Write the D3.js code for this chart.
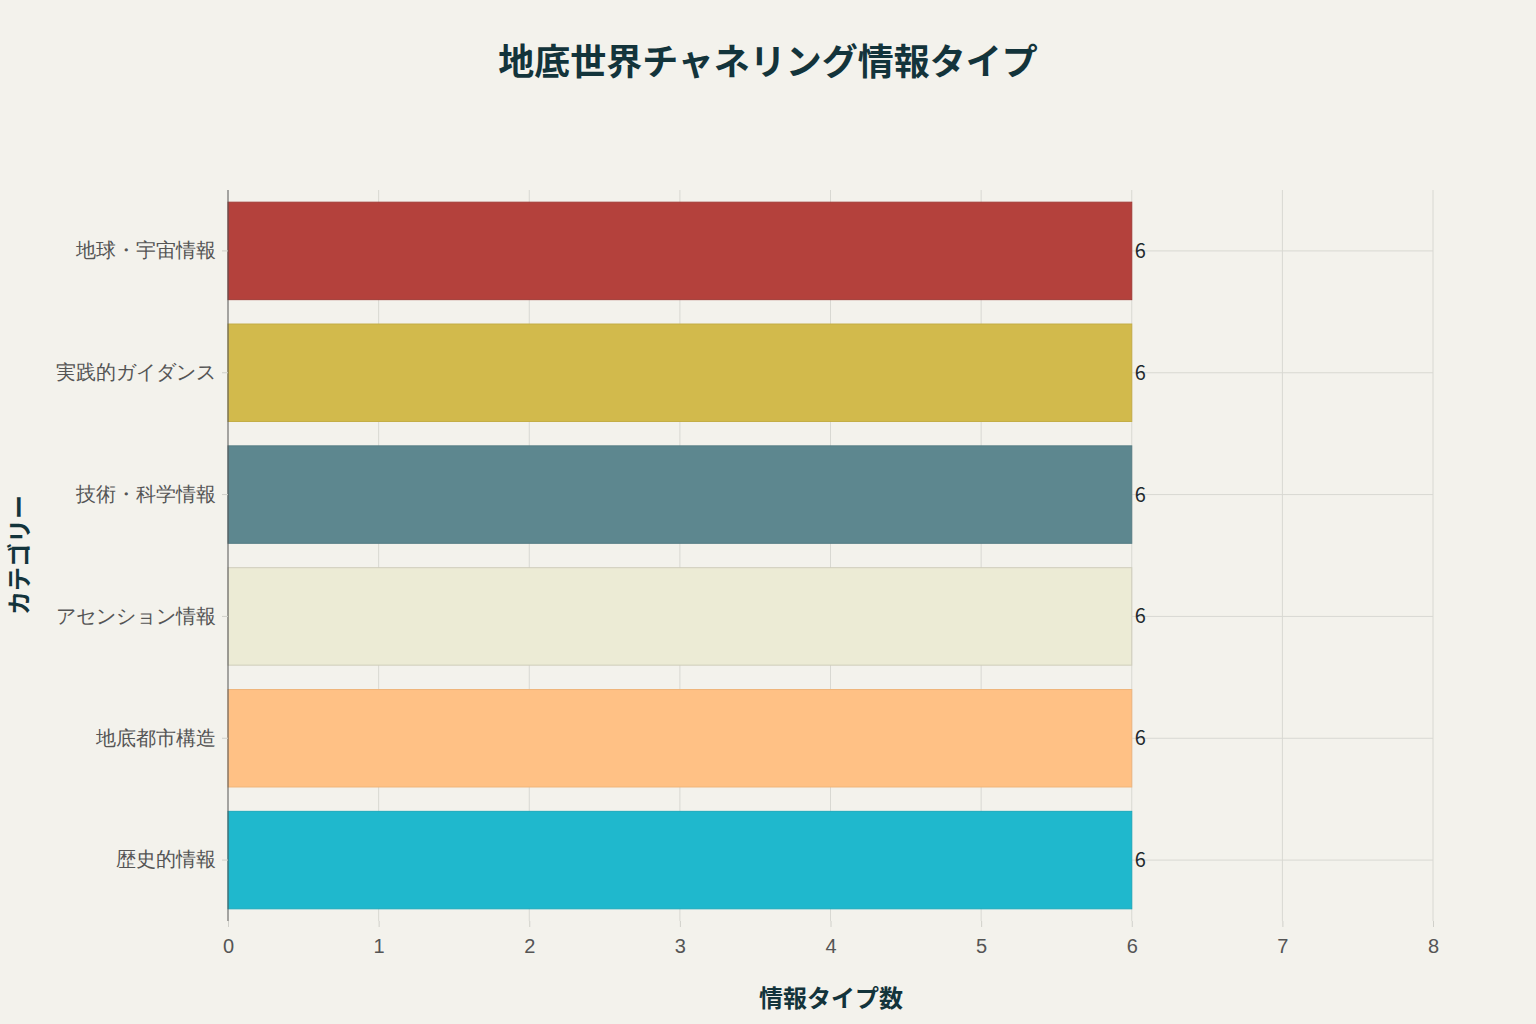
<!DOCTYPE html>
<html>
<head>
<meta charset="utf-8">
<script src="https://cdn.jsdelivr.net/npm/d3@7"></script>
<style>
  body { margin: 0; background: #f3f2ec; }
  svg { display: block; font-family: "Noto Sans CJK JP", "Noto Sans", sans-serif; }
</style>
</head>
<body>
<svg id="chart" width="1536" height="1024"></svg>
<script>
// カテゴリーと値
let categories = ["地球・宇宙情報", "実践的ガイダンス", "技術・科学情報", "アセンション情報", "地底都市構造", "歴史的情報"];
let values = [6, 6, 6, 6, 6, 6];
let colors = ["#b4413c", "#d2ba4c", "#5d878f", "#ecebd5", "#ffc185", "#1fb8cd"];
let strokes = ["#a23a35", "#c4ad45", "#567d85", "#cfcdbb", "#efb57b", "#1ba9bc"];
let xTicks = [0, 1, 2, 3, 4, 5, 6, 7, 8];

let svg = d3.select("#chart");
let margin = {left: 228, right: 1433, top: 190, bottom: 921};

let x = d3.scaleLinear().domain([0, 8]).range([margin.left, margin.right]);
let y = d3.scaleBand().domain(categories).range([margin.top, margin.bottom]).paddingInner(0.2).paddingOuter(0.1);

// 縦のグリッド
svg.append("g").selectAll("line")
    .data(xTicks.slice(1))
    .join("line")
    .attr("x1", d => x(d)).attr("x2", d => x(d))
    .attr("y1", margin.top).attr("y2", margin.bottom)
    .attr("stroke", "#d8d8d2").attr("stroke-width", 1);

// 横のグリッド
svg.append("g").selectAll("line")
    .data(categories)
    .join("line")
    .attr("x1", margin.left).attr("x2", margin.right)
    .attr("y1", d => y(d) + y.bandwidth() / 2).attr("y2", d => y(d) + y.bandwidth() / 2)
    .attr("stroke", "#d8d8d2").attr("stroke-width", 1);

// バー
svg.append("g").selectAll("rect")
    .data(categories)
    .join("rect")
    .attr("x", x(0))
    .attr("y", d => y(d))
    .attr("width", (d, i) => x(values[i]) - x(0))
    .attr("height", y.bandwidth())
    .attr("fill", (d, i) => colors[i])
    .attr("stroke", (d, i) => strokes[i])
    .attr("stroke-width", 1);

// 値ラベル
svg.append("g").selectAll("text")
    .data(categories)
    .join("text")
    .attr("x", (d, i) => x(values[i]) + 3)
    .attr("y", d => y(d) + y.bandwidth() / 2)
    .attr("dy", "0.35em")
    .attr("font-size", 20)
    .attr("fill", "#1f2a2e")
    .text((d, i) => values[i]);

// y軸
let yAxis = svg.append("g")
    .attr("transform", "translate(" + margin.left + ",0)")
    .call(d3.axisLeft(y).tickSize(6).tickPadding(6));
yAxis.select(".domain").attr("stroke", "#555").attr("d", "M0," + margin.top + "V" + margin.bottom);
yAxis.selectAll(".tick line").attr("stroke", "#d0d0ca");
yAxis.selectAll(".tick text").attr("font-size", 19.5).attr("fill", "#555").attr("font-family", "inherit");

// x軸
let xAxis = svg.append("g")
    .attr("transform", "translate(0," + margin.bottom + ")")
    .call(d3.axisBottom(x).tickValues(xTicks).tickSize(6).tickPadding(12));
xAxis.select(".domain").remove();
xAxis.selectAll(".tick line").attr("stroke", "#d0d0ca");
xAxis.selectAll(".tick text").attr("font-size", 20).attr("fill", "#555").attr("font-family", "inherit");

// タイトル
svg.append("text")
    .attr("x", 768).attr("y", 75)
    .attr("text-anchor", "middle")
    .attr("font-size", 36).attr("font-weight", "bold")
    .attr("fill", "#13343b")
    .text("地底世界チャネリング情報タイプ");

svg.append("text")
    .attr("x", 831).attr("y", 1007)
    .attr("text-anchor", "middle")
    .attr("font-size", 24).attr("font-weight", "bold")
    .attr("fill", "#13343b")
    .text("情報タイプ数");

svg.append("text")
    .attr("transform", "translate(28,555) rotate(-90)")
    .attr("text-anchor", "middle")
    .attr("font-size", 24).attr("font-weight", "bold")
    .attr("fill", "#13343b")
    .text("カテゴリー");
</script>
</body>
</html>
